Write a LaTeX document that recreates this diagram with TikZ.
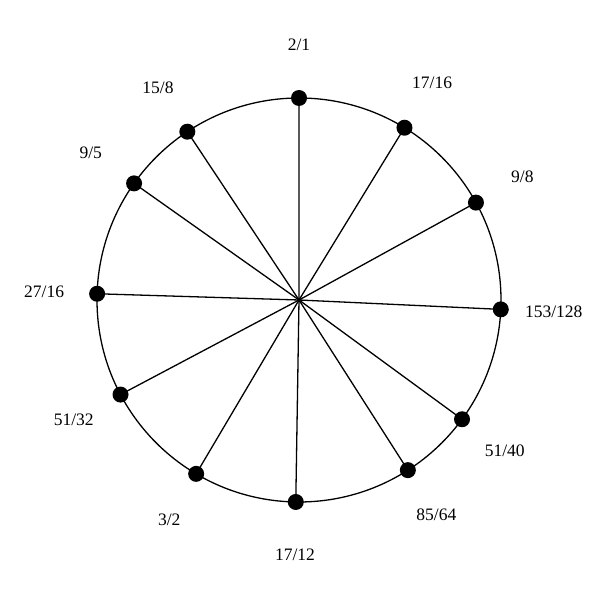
\documentclass[tikz,border=0pt]{standalone}
\usepackage{fontspec}
\setmainfont{Liberation Serif}
\usetikzlibrary{calc}
\begin{document}
\begin{tikzpicture}[x=1pt,y=1pt,
  dot/.style={circle,fill=black,inner sep=0pt,minimum size=16pt},
  lab/.style={font=\fontsize{17.5}{20}\selectfont,inner sep=0pt},
  spoke/.style={line width=1.3pt}]
\useasboundingbox (0,0) rectangle (600,600);
\coordinate (O) at (299,300);
\draw[spoke] (O) circle (202);
\foreach \r/\t [count=\i] in {2/1, 17/16, 9/8, 153/128, 51/40, 85/64, 17/12, 3/2, 51/32, 27/16, 9/5, 15/8}{
  \pgfmathsetmacro{\ang}{90-360*ln(\r/\t)/ln(2)}
  \node[dot] (p\i) at ($(O)+(\ang:202)$) {};
  \node[lab] (l\i) at ($(O)+(\ang:255)$) {\r/\t};
  \draw[spoke] (O) -- (p\i.center);
}
\end{tikzpicture}
\end{document}
